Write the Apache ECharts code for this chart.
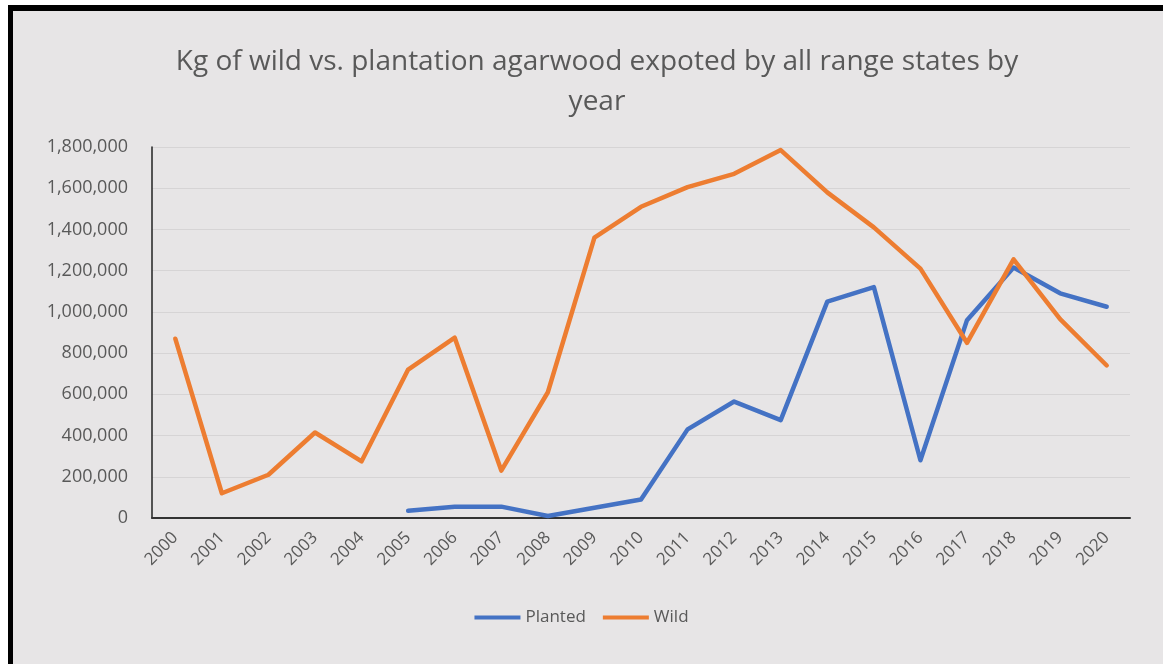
<!DOCTYPE html>
<html>
<head>
<meta charset="utf-8">
<script src="https://cdn.jsdelivr.net/npm/echarts@6/dist/echarts.min.js"></script>
<style>
  html, body { margin: 0; padding: 0; background: #ffffff; width: 1163px; height: 664px; overflow: hidden; }
  #frame {
    position: absolute; left: 8px; top: 5px; width: 1160px; height: 664px;
    background: #e7e5e6; border-top: 6px solid #000; border-left: 5px solid #000;
  }
  #chart { position: absolute; left: 0; top: 0; width: 1163px; height: 664px; }
</style>
</head>
<body>
<div id="frame"></div>
<div id="chart"></div>
<script>
// Export years (categories)
const years = ['2000','2001','2002','2003','2004','2005','2006','2007','2008','2009','2010',
               '2011','2012','2013','2014','2015','2016','2017','2018','2019','2020'];

// Kg exported from plantations (no record before 2005)
const planted = [null, null, null, null, null, 35000, 55000, 55000, 10000, 50000, 90000,
                 430000, 565000, 475000, 1050000, 1120000, 280000, 960000, 1215000, 1090000, 1025000];

// Kg of wild-harvested agarwood exported
const wild = [870000, 120000, 210000, 415000, 275000, 720000, 875000, 230000, 610000, 1360000, 1510000,
              1605000, 1670000, 1785000, 1580000, 1410000, 1210000, 850000, 1255000, 965000, 740000];

// Value axis ticks
const yMin = 0, yMax = 1800000, yStep = 200000;

const txt = '#595959';
const font = '"Open Sans", "Liberation Sans", sans-serif';

const chart = echarts.init(document.getElementById('chart'), null, { renderer: 'canvas' });
chart.setOption({
  backgroundColor: 'transparent',
  animation: false,
  title: {
    text: 'Kg of wild vs. plantation agarwood expoted by all range states by\nyear',
    left: 592, top: 37, textAlign: 'center',
    textStyle: { color: txt, fontFamily: font, fontSize: 28, fontWeight: 'normal', lineHeight: 40 }
  },
  legend: {
    data: ['Planted', 'Wild'],
    left: 'center', top: 604,
    icon: 'rect', itemWidth: 46, itemHeight: 4, itemGap: 17,
    textStyle: { color: txt, fontFamily: font, fontSize: 17 }
  },
  grid: { left: 152, right: 33, top: 147, bottom: 146 },
  xAxis: {
    type: 'category',
    data: years,
    boundaryGap: true,
    axisLine: { show: true, lineStyle: { color: '#333', width: 2 } },
    axisTick: { show: false },
    axisLabel: { rotate: 45, margin: 17, color: txt, fontFamily: font, fontSize: 17 },
    splitLine: { show: false }
  },
  yAxis: {
    type: 'value',
    min: yMin, max: yMax, interval: yStep,
    axisLine: { show: true, lineStyle: { color: '#222', width: 1.5 } },
    axisTick: { show: false },
    axisLabel: {
      margin: 24, color: txt, fontFamily: font, fontSize: 18,
      formatter: v => v.toLocaleString('en-US')
    },
    splitLine: { show: true, lineStyle: { color: '#d6d4d5', width: 1 } }
  },
  series: [
    {
      name: 'Planted', type: 'line', data: planted,
      symbol: 'none', connectNulls: false,
      lineStyle: { color: '#4472C4', width: 4.5, join: 'round', cap: 'round' },
      itemStyle: { color: '#4472C4' }
    },
    {
      name: 'Wild', type: 'line', data: wild,
      symbol: 'none',
      lineStyle: { color: '#ED7D31', width: 4.5, join: 'round', cap: 'round' },
      itemStyle: { color: '#ED7D31' }
    }
  ]
});
</script>
</body>
</html>
